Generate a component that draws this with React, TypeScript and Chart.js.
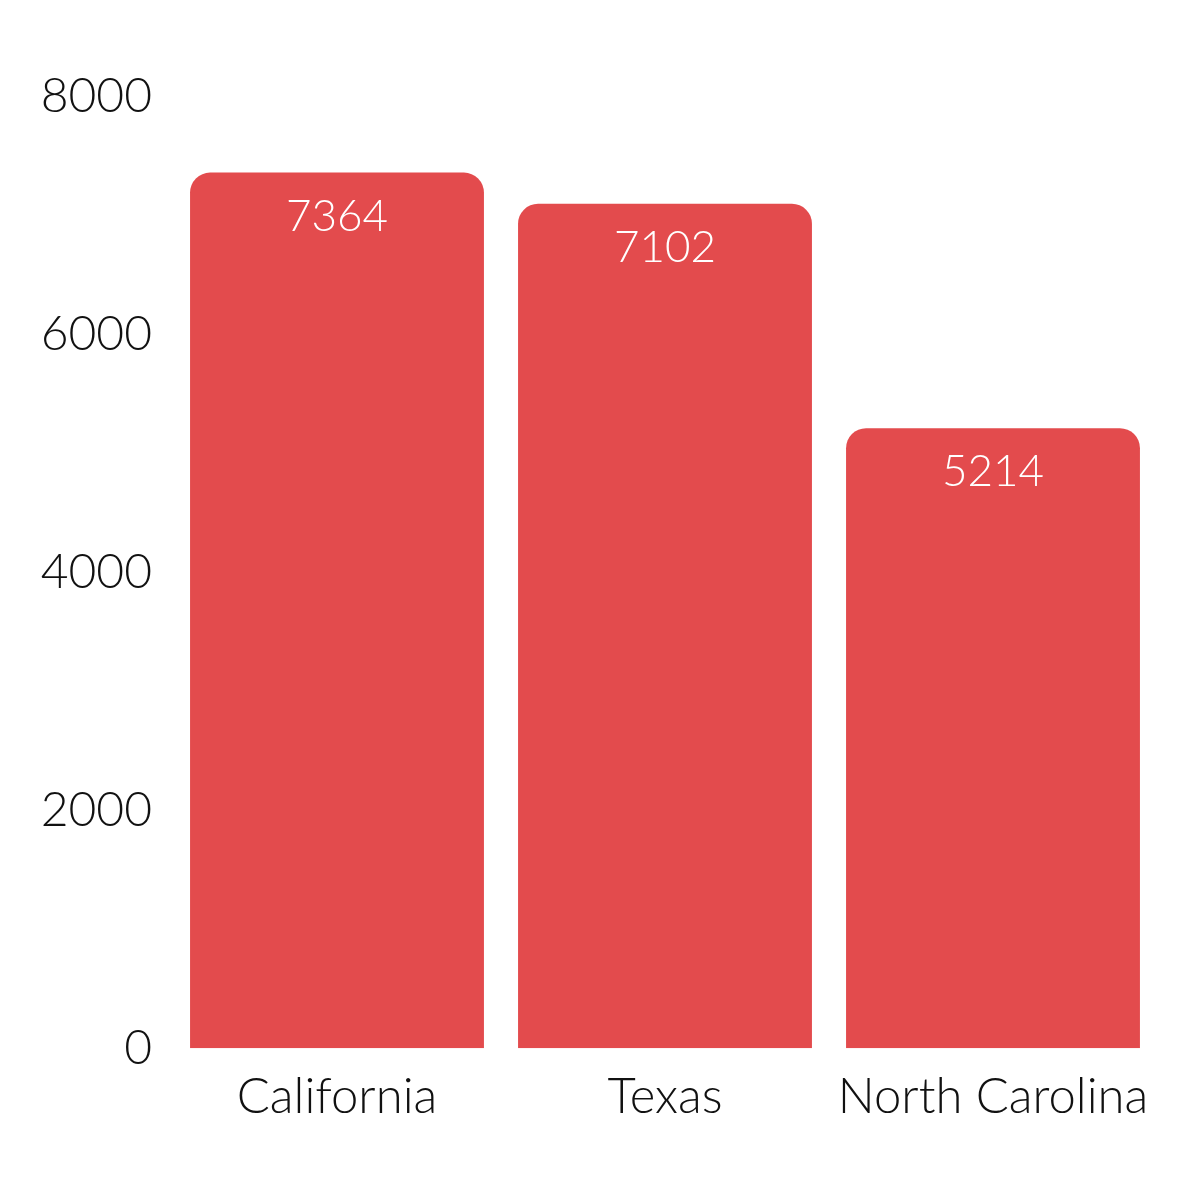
import React, { useEffect, useRef } from "react";
import { Chart, registerables } from "chart.js";

Chart.register(...registerables);

const categories = ["California", "Texas", "North Carolina"];
const values = [7364, 7102, 5214];
const yTicks = [0, 2000, 4000, 6000, 8000];

const FONT = "Lato";
const BAR_COLOR = "#E34B4D";

const valueLabels = {
  id: "valueLabels",
  afterDatasetsDraw(chart: any) {
    const { ctx } = chart;
    const meta = chart.getDatasetMeta(0);
    ctx.save();
    ctx.fillStyle = "#ffffff";
    ctx.font = `300 44px ${FONT}`;
    ctx.textAlign = "center";
    ctx.textBaseline = "middle";
    meta.data.forEach((bar: any, i: number) => {
      ctx.fillText(String(values[i]), bar.x, bar.y + 44);
    });
    ctx.restore();
  },
};

export default function App() {
  const ref = useRef<HTMLCanvasElement | null>(null);
  useEffect(() => {
    if (!ref.current) return;
    const chart = new Chart(ref.current, {
      type: "bar",
      data: {
        labels: categories,
        datasets: [
          {
            data: values,
            backgroundColor: BAR_COLOR,
            borderRadius: { topLeft: 20, topRight: 20, bottomLeft: 0, bottomRight: 0 },
            borderSkipped: false,
            barPercentage: 0.896,
            categoryPercentage: 1,
          },
        ],
      },
      options: {
        animation: false,
        responsive: false,
        maintainAspectRatio: false,
        layout: { padding: { top: 97, right: 43, left: 0, bottom: 53 } },
        plugins: { legend: { display: false }, tooltip: { enabled: false } },
        scales: {
          x: {
            grid: { display: false, drawTicks: false },
            border: { display: false },
            ticks: {
              color: "#111111",
              font: { family: FONT, size: 49, weight: 300 },
              padding: 20,
              maxRotation: 0,
              autoSkip: false,
            },
          },
          y: {
            min: 0,
            max: 8000,
            grid: { display: false, drawTicks: false },
            border: { display: false },
            afterFit: (scale: any) => {
              scale.width = 173;
            },
            afterBuildTicks: (scale: any) => {
              scale.ticks = yTicks.map((v) => ({ value: v }));
            },
            ticks: {
              color: "#111111",
              font: { family: FONT, size: 48, weight: 300 },
              padding: 21,
              callback: (v: any) => String(v),
            },
          },
        },
      },
      plugins: [valueLabels],
    });
    return () => chart.destroy();
  }, []);
  return (
    <div style={{ position: "absolute", left: 0, top: 0, width: 1200, height: 1200, background: "#fff" }}>
      <canvas ref={ref} width={1200} height={1200} style={{ width: 1200, height: 1200 }} />
    </div>
  );
}
